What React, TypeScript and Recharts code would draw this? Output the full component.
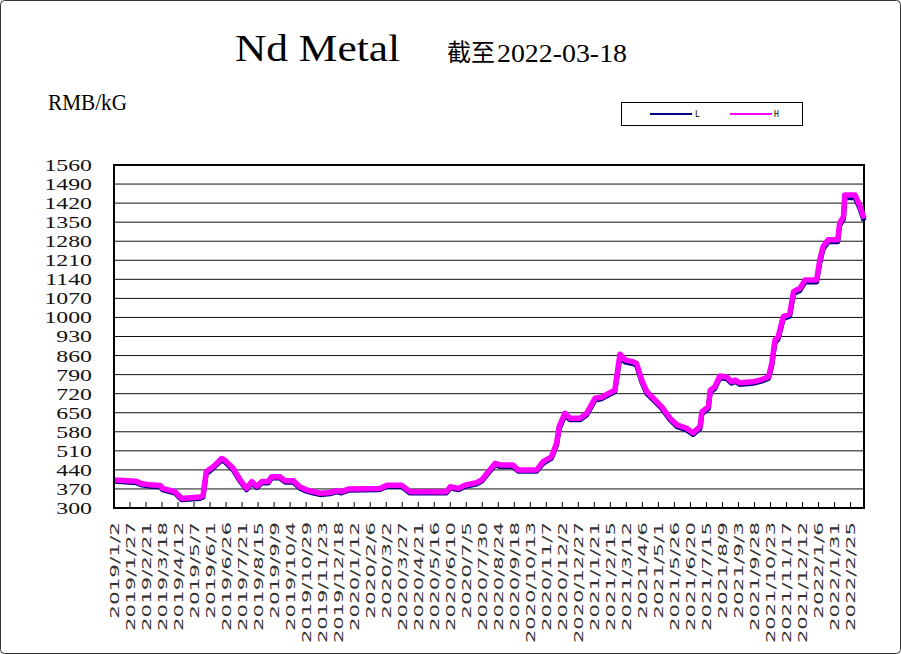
import { LineChart, Line, XAxis, YAxis, CartesianGrid, ReferenceArea } from 'recharts';

// price points (RMB/kG)
const dates = [
  '2019-01-02', '2019-02-06', '2019-02-13', '2019-02-27', '2019-03-15', '2019-03-19', '2019-04-07', '2019-04-18',
  '2019-05-16', '2019-05-21', '2019-05-26', '2019-06-06', '2019-06-19', '2019-06-24', '2019-07-07', '2019-07-18',
  '2019-07-28', '2019-08-05', '2019-08-13', '2019-08-21', '2019-08-31', '2019-09-05', '2019-09-18', '2019-09-26',
  '2019-10-09', '2019-10-19', '2019-10-30', '2019-11-09', '2019-11-20', '2019-12-05', '2019-12-16', '2019-12-23',
  '2020-01-03', '2020-02-21', '2020-03-03', '2020-03-26', '2020-04-08', '2020-06-04', '2020-06-10', '2020-06-23',
  '2020-07-03', '2020-07-21', '2020-07-29', '2020-08-19', '2020-08-27', '2020-09-16', '2020-09-24', '2020-10-23',
  '2020-11-02', '2020-11-15', '2020-11-23', '2020-11-27', '2020-12-06', '2020-12-14', '2020-12-30', '2021-01-09',
  '2021-01-22', '2021-02-01', '2021-02-22', '2021-03-02', '2021-03-10', '2021-03-23', '2021-03-28', '2021-04-05',
  '2021-04-13', '2021-04-23', '2021-05-06', '2021-05-19', '2021-05-30', '2021-06-14', '2021-06-24', '2021-07-05',
  '2021-07-08', '2021-07-18', '2021-07-21', '2021-07-28', '2021-08-05', '2021-08-16', '2021-08-23', '2021-08-29',
  '2021-09-05', '2021-09-26', '2021-10-07', '2021-10-20', '2021-10-25', '2021-10-30', '2021-11-04', '2021-11-12',
  '2021-11-22', '2021-11-28', '2021-12-08', '2021-12-16', '2022-01-03', '2022-01-08', '2022-01-13', '2022-01-21',
  '2022-02-05', '2022-02-08', '2022-02-14', '2022-02-16', '2022-03-04', '2022-03-12', '2022-03-18',
];

const highPrices = [
  403, 398, 390, 385, 383, 372, 360, 335, 340, 345, 433, 452, 482, 476, 446, 403,
  372, 397, 380, 397, 397, 415, 415, 400, 400, 378, 366, 360, 354, 357, 364, 360,
  370, 372, 384, 384, 360, 360, 378, 372, 384, 393, 403, 464, 458, 458, 440, 440,
  470, 488, 538, 599, 648, 630, 630, 648, 703, 707, 733, 865, 844, 837, 830, 770,
  727, 703, 672, 630, 605, 593, 576, 599, 654, 672, 733, 745, 785, 781, 764, 770,
  760, 764, 770, 782, 831, 917, 929, 1003, 1013, 1095, 1107, 1138, 1138, 1211, 1260, 1285,
  1285, 1346, 1370, 1450, 1450, 1407, 1364,
];

const lowPrices = [
  398, 393, 385, 380, 378, 367, 355, 330, 335, 340, 425, 447, 476, 470, 440, 398,
  367, 391, 375, 392, 392, 410, 410, 395, 395, 373, 361, 355, 349, 352, 359, 355,
  365, 367, 379, 379, 355, 355, 373, 367, 379, 388, 398, 458, 452, 452, 435, 435,
  464, 482, 530, 590, 640, 624, 624, 642, 696, 701, 727, 855, 836, 830, 823, 763,
  720, 697, 666, 624, 599, 587, 570, 592, 646, 665, 726, 738, 778, 775, 758, 764,
  754, 758, 764, 776, 822, 908, 921, 995, 1005, 1087, 1099, 1130, 1130, 1200, 1250, 1278,
  1278, 1338, 1362, 1440, 1440, 1398, 1355,
];

const xLabels = [
  '2019/1/2', '2019/1/27', '2019/2/21', '2019/3/18', '2019/4/12', '2019/5/7', '2019/6/1', '2019/6/26',
  '2019/7/21', '2019/8/15', '2019/9/9', '2019/10/4', '2019/10/29', '2019/11/23', '2019/12/18', '2020/1/12',
  '2020/2/6', '2020/3/2', '2020/3/27', '2020/4/21', '2020/5/16', '2020/6/10', '2020/7/5', '2020/7/30',
  '2020/8/24', '2020/9/18', '2020/10/13', '2020/11/7', '2020/12/2', '2020/12/27', '2021/1/21', '2021/2/15',
  '2021/3/12', '2021/4/6', '2021/5/1', '2021/5/26', '2021/6/20', '2021/7/15', '2021/8/9', '2021/9/3',
  '2021/9/28', '2021/10/23', '2021/11/17', '2021/12/12', '2022/1/6', '2022/1/31', '2022/2/25',
];

const yTicks = [300, 370, 440, 510, 580, 650, 720, 790, 860, 930, 1000, 1070, 1140, 1210, 1280, 1350, 1420, 1490, 1560];

const START = Date.UTC(2019, 0, 2);
const dayOf = (s: string) => {
  const [y, m, d] = s.split(/[-/]/).map(Number);
  return Math.round((Date.UTC(y, m - 1, d) - START) / 86400000);
};

const rows = dates.map((d, i) => ({ day: dayOf(d), L: lowPrices[i], H: highPrices[i] }));
const xTicks = xLabels.map(dayOf);
const lastDay = dayOf(dates[dates.length - 1]);

function DateTick(props: any) {
  const { x, y, payload } = props;
  const idx = xTicks.indexOf(payload.value);
  const label = idx >= 0 ? xLabels[idx] : '';
  return (
    <g>
      <line x1={x} y1={y} x2={x} y2={y - 6} stroke="#000" strokeWidth={1} />
      <g transform={`translate(${x},${y + 14}) rotate(-90)`}>
        <text
          x={0}
          y={0}
          dy="0.36em"
          textAnchor="end"
          fontSize={13}
          fontFamily="DejaVu Sans"
          fill="#333"
          textLength={label.length * 12.1}
          lengthAdjust="spacingAndGlyphs"
        >
          {label}
        </text>
      </g>
    </g>
  );
}

function ValueTick(props: any) {
  const { x, y, payload } = props;
  return (
    <g transform={`translate(${x},${y}) scale(1.36,1)`}>
      <text x={0} y={0} dy="0.34em" textAnchor="end" fontSize={17.5} fontFamily="Liberation Serif" fill="#111">
        {payload.value}
      </text>
    </g>
  );
}

export default function App() {
  return (
    <div style={{ position: 'relative', width: 901, height: 654, background: '#fff' }}>
      <style>{'body{margin:0}'}</style>
      <LineChart width={901} height={654} data={rows} margin={{ top: 165, right: 37, left: 0, bottom: 0 }}>
        <CartesianGrid vertical={false} stroke="#111" strokeWidth={1} />
        <XAxis
          type="number"
          dataKey="day"
          domain={[0, lastDay]}
          ticks={xTicks}
          interval={0}
          height={146}
          tickSize={0}
          tickMargin={0}
          tickLine={false}
          tick={<DateTick />}
          axisLine={{ stroke: '#000', strokeWidth: 2 }}
        />
        <YAxis
          domain={[300, 1560]}
          ticks={yTicks}
          interval={0}
          width={114}
          tickSize={0}
          tickMargin={22}
          tickLine={false}
          axisLine={{ stroke: '#000', strokeWidth: 2 }}
          tick={<ValueTick />}
        />
        <ReferenceArea x1={0} x2={lastDay} y1={300} y2={1560} fill="none" fillOpacity={0} stroke="#000" strokeWidth={2} />
        <Line type="linear" dataKey="L" stroke="#000080" strokeWidth={5} dot={false} strokeLinejoin="round" isAnimationActive={false} />
        <Line type="linear" dataKey="H" stroke="#FF00FF" strokeWidth={5.5} dot={false} strokeLinejoin="round" isAnimationActive={false} />
      </LineChart>
      <svg width={901} height={654} style={{ position: 'absolute', left: 0, top: 0, pointerEvents: 'none' }}>
        <rect x={0.5} y={0.5} width={900} height={653} rx={4} fill="none" stroke="#333" />
        <text x={235} y={61} fontSize={38} fontFamily="Liberation Serif" fill="#000" textLength={165} lengthAdjust="spacingAndGlyphs">
          Nd Metal
        </text>
        <text x={447} y={61} fontSize={24} fontFamily="Noto Sans CJK SC" fill="#000">截至</text>
        <text x={497} y={62} fontSize={25} fontFamily="Liberation Serif" fill="#000" textLength={130} lengthAdjust="spacingAndGlyphs">
          2022-03-18
        </text>
        <text x={48} y={110} fontSize={24} fontFamily="Liberation Serif" fill="#000" textLength={79} lengthAdjust="spacingAndGlyphs">
          RMB/kG
        </text>
        <rect x={621.5} y={102.5} width={181} height={23} fill="#fff" stroke="#000" />
        <line x1={650} y1={114} x2={692} y2={114} stroke="#000080" strokeWidth={2} />
        <text x={695} y={117} fontSize={8} fontFamily="DejaVu Sans Mono" fill="#000">L</text>
        <line x1={730} y1={114} x2={772} y2={114} stroke="#FF00FF" strokeWidth={2} />
        <text x={774} y={117} fontSize={8} fontFamily="DejaVu Sans Mono" fill="#000">H</text>
      </svg>
    </div>
  );
}
